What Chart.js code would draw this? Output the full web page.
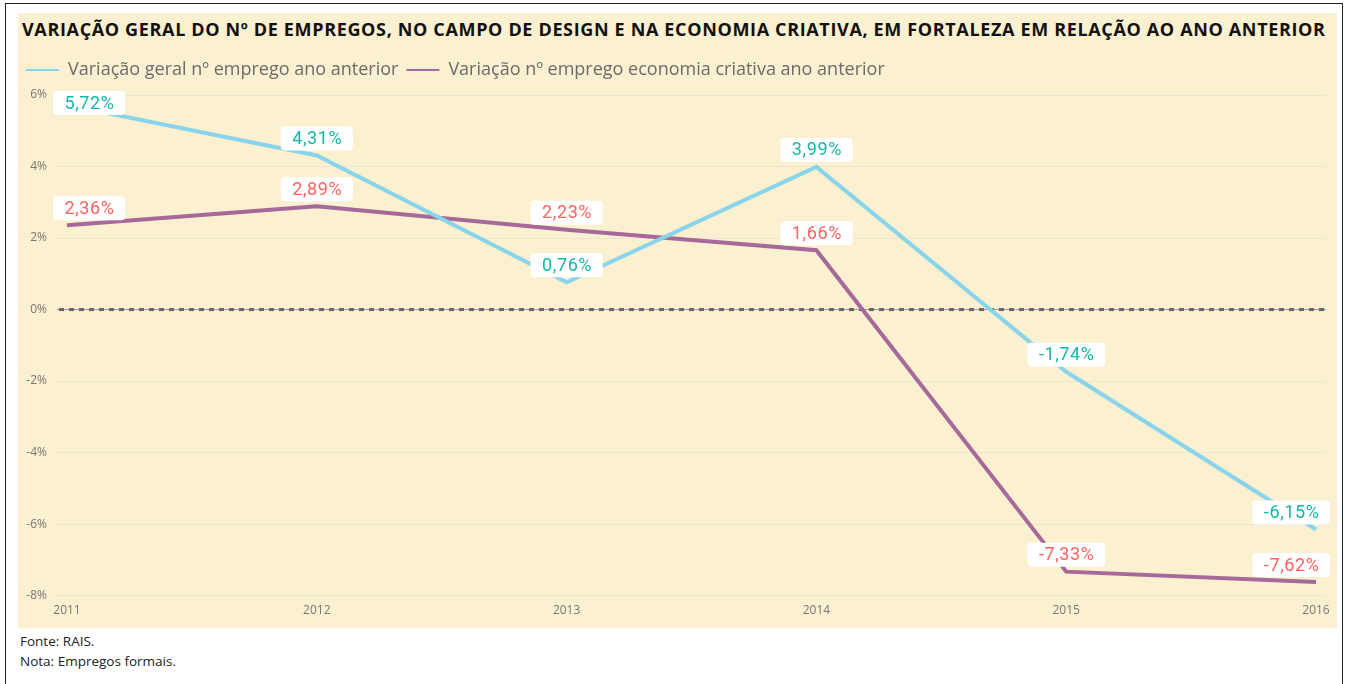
<!DOCTYPE html>
<html>
<head>
<meta charset="utf-8">
<script src="https://cdn.jsdelivr.net/npm/chart.js"></script>
<style>
body{margin:0;background:#fff;width:1346px;height:684px;overflow:hidden;font-family:"Open Sans","Noto Sans",sans-serif;}
#frame{position:absolute;left:5px;top:3px;width:1336px;height:700px;border:1px solid #222;}
#panel{position:absolute;left:18px;top:13px;width:1319px;height:615px;background:#FBF0CF;}
#title{position:absolute;left:4px;top:4px;font-size:18px;font-weight:700;color:#111;white-space:nowrap;letter-spacing:0.65px;}
#wrap{position:absolute;left:0;top:40px;width:1319px;height:575px;}
.note{position:absolute;left:20px;font-size:13.5px;color:#222;}
</style>
</head>
<body>
<div id="frame"></div>
<div id="panel">
  <div id="title">VARIAÇÃO GERAL DO Nº DE EMPREGOS, NO CAMPO DE DESIGN E NA ECONOMIA CRIATIVA, EM FORTALEZA EM RELAÇÃO AO ANO ANTERIOR</div>
  <div id="wrap"><canvas id="chart"></canvas></div>
</div>
<div class="note" style="top:632px">Fonte: RAIS.</div>
<div class="note" style="top:652px">Nota: Empregos formais.</div>
<script>
// dados
var anos = [2011, 2012, 2013, 2014, 2015, 2016];
var geral = [5.72, 4.31, 0.76, 3.99, -1.74, -6.15];
var criativa = [2.36, 2.89, 2.23, 1.66, -7.33, -7.62];
var nomes = ["Variação geral nº emprego ano anterior", "Variação nº emprego economia criativa ano anterior"];
var yTicks = [-8, -6, -4, -2, 0, 2, 4, 6];

function fmt(v){ return v.toFixed(2).replace('.', ',') + '%'; }

// rotulos brancos acima dos pontos
var rotulos = {
  id: 'rotulos',
  afterDatasetsDraw: function(chart){
    var ctx = chart.ctx, area = chart.chartArea;
    var cores = ['#14B8A6', '#FD625E'];
    ctx.save();
    ctx.font = '18px Roboto';
    ctx.letterSpacing = '0.6px';
    ctx.textAlign = 'center';
    ctx.textBaseline = 'middle';
    chart.data.datasets.forEach(function(ds, i){
      var meta = chart.getDatasetMeta(i);
      meta.data.forEach(function(pt, j){
        var txt = fmt(ds.data[j].y);
        var w = ctx.measureText(txt).width + 22, h = 24;
        var cx = pt.x, cy = pt.y - 17;
        if (cx - w/2 < area.left - 4) cx = area.left - 4 + w/2;
        if (cx + w/2 > area.right + 4) cx = area.right + 4 - w/2;
        if (cy - h/2 < area.top - 4) cy = area.top - 4 + h/2;
        ctx.fillStyle = '#fff';
        ctx.beginPath();
        ctx.roundRect(cx - w/2, cy - h/2, w, h, 4);
        ctx.fill();
        ctx.fillStyle = cores[i];
        ctx.fillText(txt, cx + 0.5, cy + 1);
      });
    });
    ctx.restore();
  }
};

function pontos(arr){ return anos.map(function(a, i){ return {x: a, y: arr[i]}; }); }

new Chart(document.getElementById('chart'), {
  type: 'line',
  data: {
    datasets: [
      {label: nomes[0], data: pontos(geral), borderColor: '#8AD4EB', backgroundColor: '#8AD4EB', borderWidth: 4, pointRadius: 0, tension: 0},
      {label: nomes[1], data: pontos(criativa), borderColor: '#A66999', backgroundColor: '#A66999', borderWidth: 4, pointRadius: 0, tension: 0}
    ]
  },
  options: {
    responsive: true,
    maintainAspectRatio: false,
    animation: false,
    layout: {padding: {left: 0, right: 11, top: 0, bottom: 10}},
    plugins: {
      tooltip: {enabled: false},
      legend: {
        position: 'top', align: 'start',
        labels: {
          boxWidth: 33, boxHeight: 2, padding: 8, color: '#6b6b6b', font: {family: 'Open Sans', size: 18},
          generateLabels: function(chart){
            var l = Chart.defaults.plugins.legend.labels.generateLabels(chart);
            l.forEach(function(it){ it.lineWidth = 0; });
            return l;
          }
        }
      }
    },
    scales: {
      x: {
        type: 'linear', min: 2010.96, max: 2016.04,
        afterBuildTicks: function(s){ s.ticks = anos.map(function(a){ return {value: a}; }); },
        grid: {display: false},
        border: {display: false},
        ticks: {color: '#777', font: {family: 'Open Sans', size: 12}, padding: 0, maxRotation: 0,
          callback: function(v){ return String(v); }}
      },
      y: {
        min: -8, max: 6,
        afterBuildTicks: function(s){ s.ticks = yTicks.map(function(v){ return {value: v}; }); },
        afterFit: function(s){ s.width = 39; },
        border: {display: false},
        grid: {color: '#ECE5D3', lineWidth: 1, drawTicks: false},
        ticks: {color: '#777', font: {family: 'Open Sans', size: 12}, padding: 10,
          callback: function(v){ return v + '%'; }}
      }
    }
  },
  plugins: [rotulos, {
    id: 'espacoLegenda',
    beforeInit: function(chart){
      var fit = chart.legend.fit;
      chart.legend.fit = function(){ fit.call(this); this.height += 6; };
    }
  }, {
    id: 'zeroDash',
    beforeDatasetsDraw: function(chart){
      // linha do zero: fina continua + tracejado
      var ctx = chart.ctx, a = chart.chartArea, y = chart.scales.y.getPixelForValue(0);
      ctx.save();
      ctx.strokeStyle = '#999';
      ctx.lineWidth = 1;
      ctx.beginPath(); ctx.moveTo(a.left, y); ctx.lineTo(a.right, y); ctx.stroke();
      ctx.strokeStyle = '#666';
      ctx.lineWidth = 3;
      ctx.setLineDash([5, 5]);
      ctx.beginPath(); ctx.moveTo(a.left + 2, y); ctx.lineTo(a.right, y); ctx.stroke();
      ctx.restore();
    }
  }]
});
</script>
</body>
</html>
